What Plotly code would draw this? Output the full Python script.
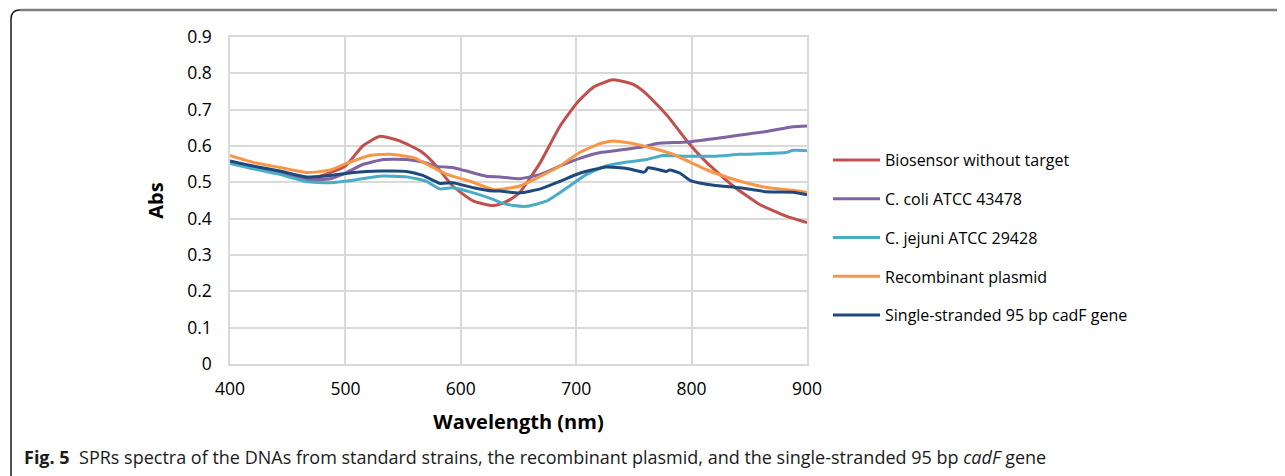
import plotly.graph_objects as go

# ---- data ----
wl_red = [400, 420, 443, 466, 478, 500, 515, 530, 547, 565, 576, 593, 611, 628, 634, 643, 651, 669, 686, 701, 715, 732, 749, 761, 779, 796, 813, 836, 859, 882, 900]
abs_red = [0.556, 0.540, 0.527, 0.513, 0.517, 0.545, 0.600, 0.627, 0.614, 0.586, 0.555, 0.490, 0.448, 0.436, 0.440, 0.453, 0.472, 0.555, 0.655, 0.720, 0.762, 0.782, 0.770, 0.743, 0.683, 0.614, 0.555, 0.490, 0.439, 0.407, 0.389]

wl_purple = [400, 420, 443, 466, 487, 501, 515, 533, 553, 567, 579, 593, 600, 605, 622, 634, 651, 669, 686, 703, 721, 738, 758, 770, 796, 819, 842, 865, 888, 900]
abs_purple = [0.556, 0.541, 0.527, 0.508, 0.510, 0.527, 0.549, 0.563, 0.563, 0.556, 0.544, 0.541, 0.535, 0.531, 0.517, 0.515, 0.510, 0.522, 0.545, 0.566, 0.582, 0.589, 0.598, 0.607, 0.611, 0.620, 0.630, 0.640, 0.653, 0.655]

wl_cyan = [400, 420, 443, 466, 487, 507, 530, 553, 570, 582, 593, 611, 628, 634, 646, 657, 674, 692, 709, 726, 744, 761, 775, 796, 819, 842, 882, 888, 900]
abs_cyan = [0.552, 0.537, 0.522, 0.502, 0.499, 0.506, 0.517, 0.515, 0.503, 0.482, 0.485, 0.471, 0.453, 0.445, 0.436, 0.434, 0.448, 0.485, 0.522, 0.545, 0.556, 0.563, 0.574, 0.572, 0.572, 0.577, 0.582, 0.588, 0.587]

wl_orange = [400, 420, 443, 467, 487, 501, 521, 539, 559, 576, 588, 608, 628, 634, 651, 669, 686, 703, 721, 732, 749, 767, 784, 799, 819, 842, 865, 888, 900]
abs_orange = [0.574, 0.555, 0.541, 0.527, 0.534, 0.552, 0.574, 0.577, 0.568, 0.541, 0.522, 0.503, 0.480, 0.480, 0.490, 0.517, 0.545, 0.582, 0.607, 0.614, 0.607, 0.593, 0.577, 0.555, 0.527, 0.503, 0.486, 0.478, 0.472]

wl_navy = [400, 420, 443, 466, 487, 507, 530, 553, 567, 582, 593, 611, 628, 634, 651, 669, 686, 703, 726, 744, 758, 760, 762, 770, 778, 781, 790, 799, 819, 842, 865, 888, 900]
abs_navy = [0.559, 0.545, 0.531, 0.515, 0.519, 0.527, 0.531, 0.530, 0.519, 0.497, 0.499, 0.485, 0.476, 0.476, 0.471, 0.482, 0.503, 0.525, 0.542, 0.538, 0.528, 0.530, 0.540, 0.536, 0.530, 0.534, 0.525, 0.505, 0.492, 0.485, 0.474, 0.473, 0.466]

series_names = ["Biosensor without target", "C. coli ATCC 43478", "C. jejuni ATCC 29428",
                "Recombinant plasmid", "Single-stranded 95 bp cadF gene"]
series_x = [wl_red, wl_purple, wl_cyan, wl_orange, wl_navy]
series_y = [abs_red, abs_purple, abs_cyan, abs_orange, abs_navy]
colors = ["#C0504D", "#8064A2", "#4BACC6", "#F79646", "#1F497D"]

x_ticks = [400, 500, 600, 700, 800, 900]
y_ticks = [0, 0.1, 0.2, 0.3, 0.4, 0.5, 0.6, 0.7, 0.8, 0.9]
y_tick_text = ["0", "0.1", "0.2", "0.3", "0.4", "0.5", "0.6", "0.7", "0.8", "0.9"]

# page is drawn with an 8px body margin, so the figure is offset by 8px
OFF = 8
W, H = 1285 - OFF, 476 - OFF
# plot area in page pixels (reference): x 230..807, y 37..364
ML = 230 - OFF
MT = 37 - OFF
MR = W - (807 - OFF)
MB = H - (364 - OFF)
PW, PH = W - ML - MR, H - MT - MB

def px(xpage):
    return (xpage - OFF - ML) / PW

def py(ypage):
    return (H - MB - (ypage - OFF)) / PH

fig = go.Figure()
for i, (name, xs, ys, c) in enumerate(zip(series_names, series_x, series_y, colors)):
    fig.add_trace(go.Scatter(
        x=xs, y=ys, name=name, mode="lines",
        line=dict(color=c, width=3, shape="spline", smoothing=0.5),
        legendgroup=f"g{i}",
    ))

FONT = "Open Sans"
fig.update_layout(
    width=W, height=H,
    margin=dict(l=ML, r=MR, t=MT, b=MB, pad=0),
    paper_bgcolor="white", plot_bgcolor="white",
    font=dict(family=FONT, size=16, color="#000000"),
    showlegend=True,
    legend=dict(
        x=px(828), y=py(143), xanchor="left", yanchor="top",
        font=dict(family=FONT, size=16, color="#000000"),
        itemwidth=47, tracegroupgap=15, bgcolor="rgba(0,0,0,0)",
    ),
    xaxis=dict(
        range=[400, 900], tickvals=x_ticks, ticktext=[str(v) for v in x_ticks],
        showgrid=True, gridcolor="#D9D9D9", gridwidth=1.5,
        showline=True, linecolor="#D9D9D9", linewidth=1.5, mirror=True,
        zeroline=False,
        ticks="outside", ticklen=8, tickcolor="rgba(0,0,0,0)",
        tickfont=dict(family=FONT, size=17.5, color="#000000"),
        title=dict(text="<b>Wavelength (nm)</b>", font=dict(family=FONT, size=20, color="#000000"), standoff=16),
    ),
    yaxis=dict(
        range=[0, 0.9], tickvals=y_ticks, ticktext=y_tick_text,
        showgrid=True, gridcolor="#D9D9D9", gridwidth=1.5,
        showline=True, linecolor="#D9D9D9", linewidth=1.5, mirror=True,
        zeroline=False,
        ticks="outside", ticklen=13, tickcolor="rgba(0,0,0,0)",
        tickfont=dict(family=FONT, size=17.5, color="#000000"),
        title=dict(text="<b>Abs</b>", font=dict(family=FONT, size=20, color="#000000"), standoff=18),
    ),
)

# figure frame (rounded top-left corner)
r = 9
fig.add_shape(type="path", xref="paper", yref="paper",
              path=f"M {px(11)} {py(480)} L {px(11)} {py(10 + r)} Q {px(11)} {py(10)} {px(11 + r)} {py(10)}",
              line=dict(color="#1a1a1a", width=1.5))
fig.add_shape(type="line", xref="paper", yref="paper",
              x0=px(11 + r), y0=py(10), x1=px(1290), y1=py(10),
              line=dict(color="#7f7f7f", width=2.5))

# caption
fig.add_annotation(
    xref="paper", yref="paper", x=px(22), y=py(457), xanchor="left", yanchor="middle",
    showarrow=False, align="left",
    text="<b>Fig. 5</b>  SPRs spectra of the DNAs from standard strains, the recombinant plasmid, and the single-stranded 95 bp <i>cadF</i> gene",
    font=dict(family=FONT, size=18, color="#1a1a1a"),
)

fig.write_html("out.html")
